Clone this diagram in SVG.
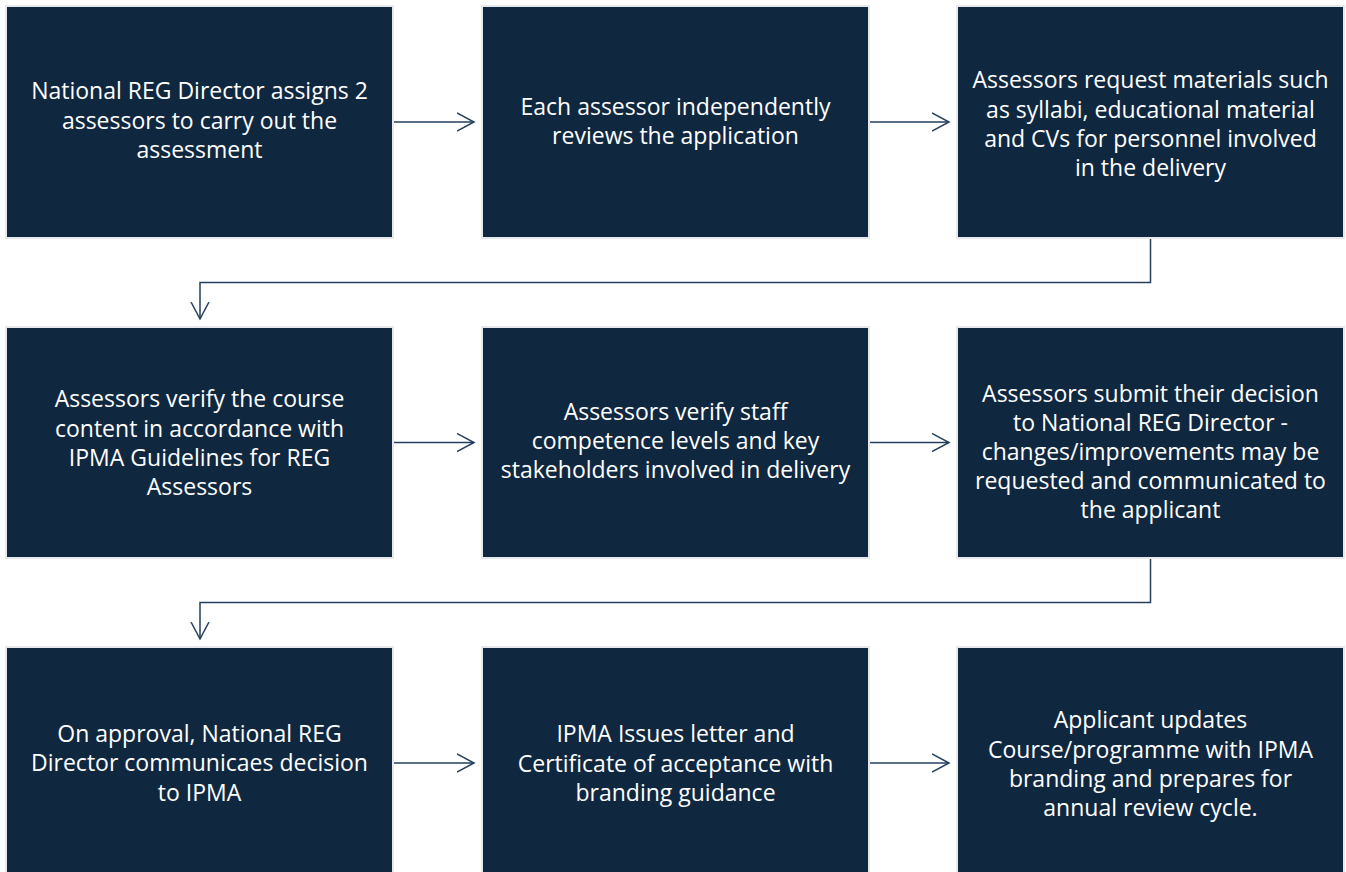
<svg xmlns="http://www.w3.org/2000/svg" width="1346" height="872" viewBox="0 0 1346 872">
<style>
.box{fill:#10283f;stroke:#e6e8eb;stroke-width:2}
.t{font-family:"Open Sans","Liberation Sans",sans-serif;font-size:23px;fill:#ffffff;text-anchor:middle}
.c{fill:none;stroke:#24405e;stroke-width:1.5}
</style>
<defs>
<marker id="arr" markerUnits="userSpaceOnUse" markerWidth="20" markerHeight="22" refX="17" refY="10" orient="auto" viewBox="0 0 20 22">
<path d="M0,1 L17,10 L0,19" fill="none" stroke="#24405e" stroke-width="1.5"/>
</marker>
</defs>
<rect width="1346" height="872" fill="#ffffff"/>
<g id="connectors">
<path class="c" d="M394,122 H474" marker-end="url(#arr)"/>
<path class="c" d="M870,122 H949" marker-end="url(#arr)"/>
<path class="c" d="M1150.5,239 V282.5 H200 V319" marker-end="url(#arr)"/>
<path class="c" d="M394,442.5 H474" marker-end="url(#arr)"/>
<path class="c" d="M870,442.5 H949" marker-end="url(#arr)"/>
<path class="c" d="M1150.5,559 V602.5 H200 V639" marker-end="url(#arr)"/>
<path class="c" d="M394,763 H474" marker-end="url(#arr)"/>
<path class="c" d="M870,763 H949" marker-end="url(#arr)"/>
</g>
<g id="n1">
<rect class="box" x="6" y="6" width="387" height="232"/>
<text class="t"><tspan x="199.5" y="99">National REG Director assigns 2</tspan><tspan x="199.5" y="128.5">assessors to carry out the</tspan><tspan x="199.5" y="158">assessment</tspan></text>
</g>
<g id="n2">
<rect class="box" x="482" y="6" width="387" height="232"/>
<text class="t"><tspan x="675.5" y="115">Each assessor independently</tspan><tspan x="675.5" y="144">reviews the application</tspan></text>
</g>
<g id="n3">
<rect class="box" x="957" y="6" width="387" height="232"/>
<text class="t"><tspan x="1150.5" y="88">Assessors request materials such</tspan><tspan x="1150.5" y="117.5">as syllabi, educational material</tspan><tspan x="1150.5" y="146.5">and CVs for personnel involved</tspan><tspan x="1150.5" y="175.5">in the delivery</tspan></text>
</g>
<g id="n4">
<rect class="box" x="6" y="327" width="387" height="231"/>
<text class="t"><tspan x="199.5" y="407">Assessors verify the course</tspan><tspan x="199.5" y="436.5">content in accordance with</tspan><tspan x="199.5" y="465.5">IPMA Guidelines for REG</tspan><tspan x="199.5" y="494.5">Assessors</tspan></text>
</g>
<g id="n5">
<rect class="box" x="482" y="327" width="387" height="231"/>
<text class="t"><tspan x="675.5" y="420">Assessors verify staff</tspan><tspan x="675.5" y="449">competence levels and key</tspan><tspan x="675.5" y="478">stakeholders involved in delivery</tspan></text>
</g>
<g id="n6">
<rect class="box" x="957" y="327" width="387" height="231"/>
<text class="t"><tspan x="1150.5" y="401.5">Assessors submit their decision</tspan><tspan x="1150.5" y="430.5">to National REG Director -</tspan><tspan x="1150.5" y="459.5">changes/improvements may be</tspan><tspan x="1150.5" y="488.5">requested and communicated to</tspan><tspan x="1150.5" y="517.5">the applicant</tspan></text>
</g>
<g id="n7">
<rect class="box" x="6" y="647" width="387" height="232"/>
<text class="t"><tspan x="199.5" y="742">On approval, National REG</tspan><tspan x="199.5" y="771">Director communicaes decision</tspan><tspan x="199.5" y="800.5">to IPMA</tspan></text>
</g>
<g id="n8">
<rect class="box" x="482" y="647" width="387" height="232"/>
<text class="t"><tspan x="675.5" y="742">IPMA Issues letter and</tspan><tspan x="675.5" y="771.5">Certificate of acceptance with</tspan><tspan x="675.5" y="800.5">branding guidance</tspan></text>
</g>
<g id="n9">
<rect class="box" x="957" y="647" width="387" height="232"/>
<text class="t"><tspan x="1150.5" y="728">Applicant updates</tspan><tspan x="1150.5" y="757.5">Course/programme with IPMA</tspan><tspan x="1150.5" y="786.5">branding and prepares for</tspan><tspan x="1150.5" y="815.5">annual review cycle.</tspan></text>
</g>
</svg>
